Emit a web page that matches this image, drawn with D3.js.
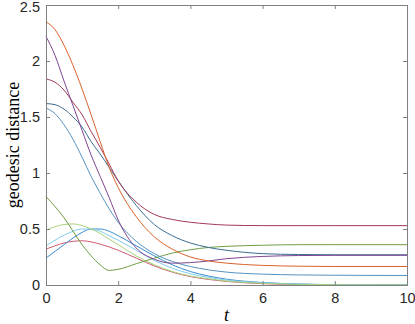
<!DOCTYPE html>
<html>
<head>
<meta charset="utf-8">
<script src="https://cdn.jsdelivr.net/npm/d3@7"></script>
<style>
  body { margin: 0; background: #fff; }
  .tick text { font-family: "Liberation Sans", Arial, sans-serif; font-size: 14.5px; fill: #262626; }
  .axisText { font-family: "Liberation Serif", "DejaVu Serif", serif; fill: #000; }
</style>
</head>
<body>
<div id="chart"></div>
<script>
// time samples
var tValues = [0, 0.25, 0.5, 0.75, 1, 1.25, 1.5, 1.75, 2, 2.5, 3, 3.5, 4, 4.5, 5, 6, 7, 8, 10];

// each series: geodesic distance at the times above
var orange    = [2.35, 2.28, 2.14, 1.96, 1.75, 1.52, 1.28, 1.05, 0.87, 0.61, 0.43, 0.32, 0.25, 0.215, 0.195, 0.175, 0.168, 0.165, 0.165];
var purple    = [2.22, 2.05, 1.82, 1.60, 1.38, 1.16, 0.97, 0.78, 0.58, 0.33, 0.23, 0.195, 0.20, 0.215, 0.235, 0.255, 0.263, 0.265, 0.265];
var darkRed   = [1.84, 1.81, 1.74, 1.63, 1.52, 1.37, 1.23, 1.08, 0.93, 0.74, 0.63, 0.585, 0.56, 0.545, 0.535, 0.53, 0.53, 0.53, 0.53];
var darkBlue  = [1.62, 1.61, 1.57, 1.50, 1.41, 1.28, 1.17, 1.05, 0.93, 0.71, 0.54, 0.44, 0.375, 0.335, 0.31, 0.28, 0.272, 0.27, 0.27];
var steelBlue = [1.58, 1.53, 1.43, 1.30, 1.14, 0.97, 0.82, 0.68, 0.56, 0.39, 0.28, 0.21, 0.165, 0.135, 0.115, 0.097, 0.09, 0.087, 0.085];
var green     = [0.79, 0.70, 0.60, 0.48, 0.36, 0.26, 0.18, 0.13, 0.14, 0.19, 0.24, 0.285, 0.315, 0.335, 0.345, 0.355, 0.36, 0.36, 0.36];
var lightGreen= [0.49, 0.52, 0.54, 0.545, 0.53, 0.50, 0.46, 0.41, 0.36, 0.26, 0.18, 0.12, 0.08, 0.055, 0.035, 0.015, 0.006, 0.002, 0];
var cyan      = [0.35, 0.40, 0.445, 0.48, 0.50, 0.50, 0.48, 0.44, 0.40, 0.31, 0.22, 0.15, 0.10, 0.068, 0.045, 0.02, 0.008, 0.003, 0];
var blue      = [0.24, 0.30, 0.36, 0.42, 0.47, 0.50, 0.50, 0.48, 0.44, 0.35, 0.26, 0.18, 0.12, 0.08, 0.052, 0.022, 0.009, 0.003, 0];
var pink      = [0.32, 0.35, 0.375, 0.39, 0.395, 0.385, 0.365, 0.34, 0.31, 0.24, 0.17, 0.115, 0.075, 0.05, 0.032, 0.012, 0.004, 0.001, 0];

var xTicks = [0, 2, 4, 6, 8, 10];
var yTicks = [0, 0.5, 1, 1.5, 2, 2.5];

var series = [
    [pink, '#cf5a74'],
    [blue, '#3a8ccc'],
    [cyan, '#7fcdee'],
    [lightGreen, '#a8d27a'],
    [green, '#6f9d42'],
    [steelBlue, '#5592c2'],
    [darkBlue, '#3a6c93'],
    [darkRed, '#a23a55'],
    [purple, '#7e4590'],
    [orange, '#d9622b']
];

var svgWidth = 415, svgHeight = 324;
var margin = {top: 5, right: 8, bottom: 39, left: 46};
var width = svgWidth - margin.left - margin.right;
var height = svgHeight - margin.top - margin.bottom;

var svg = d3.select('#chart')
    .append('svg')
        .attr('width', svgWidth)
        .attr('height', svgHeight);

var chart = svg.append('g')
    .attr('transform', 'translate(' + margin.left + ',' + margin.top + ')');

var xScale = d3.scaleLinear().domain([0, 10]).range([0, width]);
var yScale = d3.scaleLinear().domain([0, 2.5]).range([height, 0]);

// Curves
var line = d3.line()
    .x(function(d) { return xScale(d[0]); })
    .y(function(d) { return yScale(d[1]); })
    .curve(d3.curveMonotoneX);

series.forEach(function(s) {
    chart.append('path')
        .datum(tValues.map(function(t, i) { return [t, s[0][i]]; }))
        .attr('fill', 'none')
        .attr('stroke', s[1])
        .attr('stroke-width', 1)
        .attr('d', line);
});

// Axes, ticks pointing inward on all four sides
var axisColor = '#808080';
var bottomAxis = d3.axisBottom(xScale).tickValues(xTicks).tickSize(-4).tickPadding(8).tickFormat(d3.format('d'));
var topAxis = d3.axisTop(xScale).tickValues(xTicks).tickSize(-4).tickFormat('');
var leftAxis = d3.axisLeft(yScale).tickValues(yTicks).tickSize(-4).tickPadding(6).tickFormat(function(d) { return d; });
var rightAxis = d3.axisRight(yScale).tickValues(yTicks).tickSize(-4).tickFormat('');

[[bottomAxis, 0, height], [topAxis, 0, 0], [leftAxis, 0, 0], [rightAxis, width, 0]].forEach(function(a) {
    var g = chart.append('g')
        .attr('transform', 'translate(' + a[1] + ',' + a[2] + ')')
        .call(a[0]);
    g.select('.domain').attr('stroke', axisColor);
    g.selectAll('.tick line').attr('stroke', axisColor);
});

// keep the top tick label inside the picture
chart.selectAll('.tick text')
    .filter(function(d) { return d === 2.5; })
    .attr('dy', '0.42em');

// Axis labels
chart.append('text')
    .attr('class', 'axisText')
    .attr('transform', 'translate(' + (19 - margin.left) + ',' + (height / 2) + ') rotate(-90)')
    .attr('text-anchor', 'middle')
    .style('font-size', '18px')
    .text('geodesic distance');

chart.append('text')
    .attr('class', 'axisText')
    .attr('x', width / 2)
    .attr('y', height + 36)
    .attr('text-anchor', 'middle')
    .style('font-size', '18px')
    .style('font-style', 'italic')
    .text('t');
</script>
</body>
</html>
